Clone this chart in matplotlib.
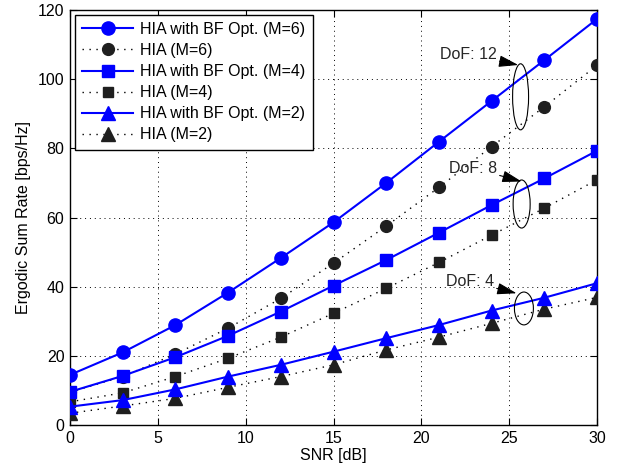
import matplotlib
matplotlib.use("Agg")
import matplotlib.pyplot as plt
from matplotlib.patches import Ellipse

plt.rcParams['font.family'] = ['Liberation Sans', 'DejaVu Sans']

snr = [0, 3, 6, 9, 12, 15, 18, 21, 24, 27, 30]
opt_m6 = [14.5, 21.0, 28.9, 38.3, 48.3, 58.6, 70.0, 81.9, 93.7, 105.5, 117.4]
hia_m6 = [9.5, 14.0, 20.5, 28.0, 36.6, 46.8, 57.5, 68.7, 80.5, 92.0, 104.0]
opt_m4 = [9.6, 14.2, 19.6, 25.8, 32.8, 40.3, 47.7, 55.6, 63.6, 71.3, 79.3]
hia_m4 = [6.7, 9.3, 14.0, 19.3, 25.4, 32.3, 39.5, 47.0, 54.9, 62.7, 70.9]
opt_m2 = [5.3, 7.2, 10.3, 14.0, 17.4, 21.2, 25.1, 28.9, 33.1, 36.8, 41.0]
hia_m2 = [3.4, 5.5, 7.7, 10.9, 14.0, 17.4, 21.7, 25.4, 29.4, 33.5, 36.9]

labels = ['HIA with BF Opt. (M=6)', 'HIA (M=6)',
          'HIA with BF Opt. (M=4)', 'HIA (M=4)',
          'HIA with BF Opt. (M=2)', 'HIA (M=2)']

xticks = [0, 5, 10, 15, 20, 25, 30]
yticks = [0, 20, 40, 60, 80, 100, 120]

dof_labels = ['DoF: 12', 'DoF: 8', 'DoF: 4']
dof_text_xy = [(24.29, 107.0), (24.30, 74.3), (24.13, 41.4)]
dof_tip_xy = [(25.52, 104.1), (25.71, 70.4), (25.42, 38.1)]
dof_ell = [((25.65, 94.9), 0.91, 19.1), ((25.71, 63.9), 0.97, 13.9), ((25.84, 33.7), 1.08, 9.5)]

fig = plt.figure(figsize=(6.21, 4.72), dpi=100)
ax = fig.add_axes([70/621, 1-425/472, 527/621, 415/472])

blue = (0, 0, 1)
dark = (0.12, 0.12, 0.12)
dotted = (0, (1, 4))

ax.plot(snr, opt_m6, '-', color=blue, lw=1.5, marker='o', ms=9.5, mfc=blue, mec=blue, label=labels[0], zorder=4)
ax.plot(snr, hia_m6, linestyle=dotted, color='k', lw=1.0, marker='o', ms=8.5, mfc=dark, mec=dark, label=labels[1], zorder=3)
ax.plot(snr, opt_m4, '-', color=blue, lw=1.5, marker='s', ms=8, mfc=blue, mec=blue, label=labels[2], zorder=4)
ax.plot(snr, hia_m4, linestyle=dotted, color='k', lw=1.0, marker='s', ms=7.5, mfc=dark, mec=dark, label=labels[3], zorder=3)
ax.plot(snr, opt_m2, '-', color=blue, lw=1.5, marker='^', ms=10, mfc=blue, mec=blue, label=labels[4], zorder=4)
ax.plot(snr, hia_m2, linestyle=dotted, color='k', lw=1.0, marker='^', ms=10, mfc=dark, mec=dark, label=labels[5], zorder=3)

for (c, w, h) in dof_ell:
    ax.add_patch(Ellipse(c, w, h, fill=False, edgecolor='k', lw=0.8, zorder=5))
for lab, txy, tip in zip(dof_labels, dof_text_xy, dof_tip_xy):
    ax.annotate(lab, xy=tip, xytext=txy, ha='right', va='center', fontsize=11.5, color=(0.15, 0.15, 0.15),
                arrowprops=dict(arrowstyle='-|>,head_length=0.6,head_width=0.18', color='k', lw=0.8,
                                mutation_scale=20, shrinkA=0, shrinkB=0), zorder=6)

ax.set_xlim(0, 30)
ax.set_ylim(0, 120)
ax.set_xticks(xticks)
ax.set_yticks(yticks)
ax.tick_params(direction='in', top=True, right=True, length=5, width=0.8, labelsize=11.5, pad=4)
ax.grid(True, linestyle=dotted, color='k', lw=0.7)
for s in ax.spines.values():
    s.set_linewidth(1.0)
ax.set_xlabel('SNR [dB]', fontsize=11.5, labelpad=2)
ax.set_ylabel('Ergodic Sum Rate [bps/Hz]', fontsize=11.5, labelpad=5)

leg = ax.legend(loc='upper left', fontsize=11.5, handlelength=3.2, handletextpad=0.45,
                labelspacing=0.38, borderaxespad=0.3, borderpad=0.45, fancybox=False,
                framealpha=1, edgecolor='k')
leg.get_frame().set_linewidth(1.0)

fig.savefig('out.png', dpi=100)
